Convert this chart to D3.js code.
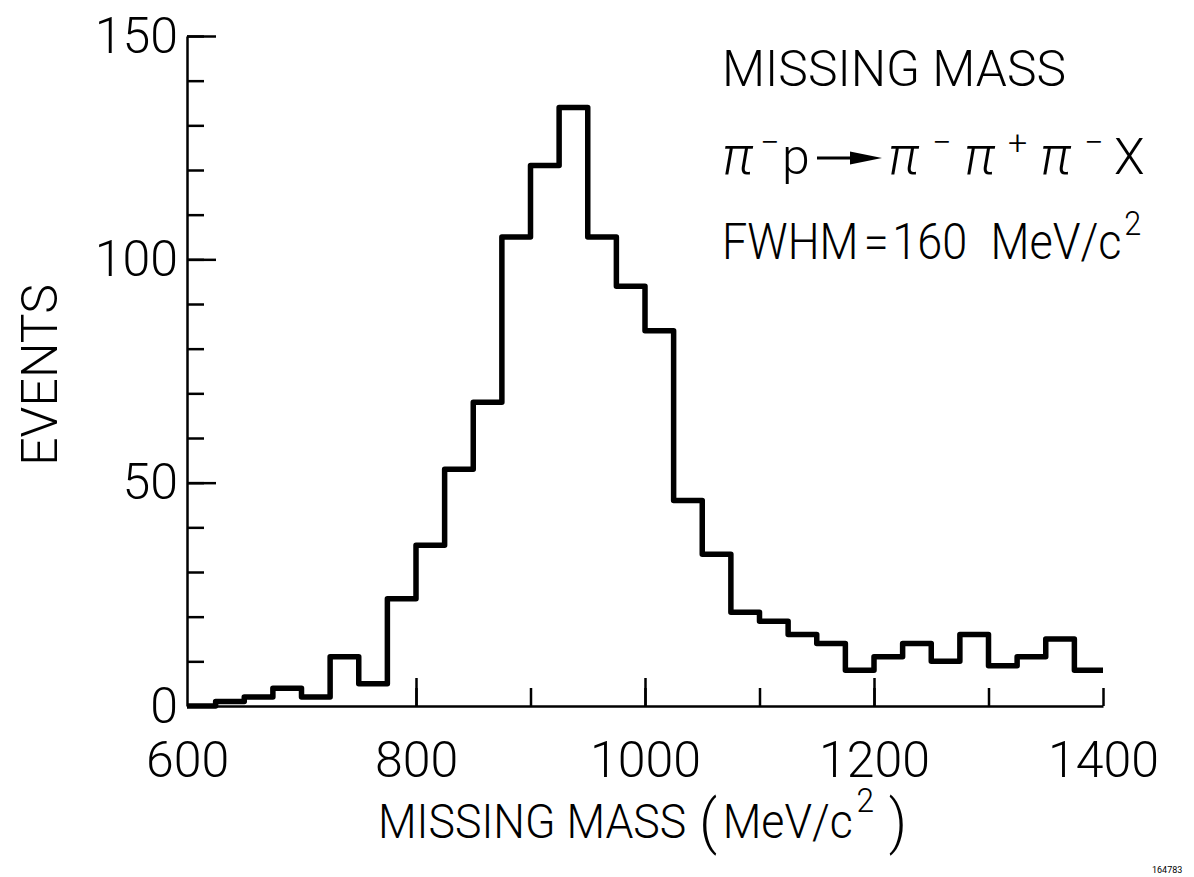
<!DOCTYPE html>
<html><head><meta charset="utf-8">
<script src="https://cdn.jsdelivr.net/npm/d3@7"></script>
<style>body{margin:0;background:#fff}svg{display:block}</style>
</head><body><svg id="c" width="1194" height="877"></svg>
<script>
// ---- data ----
const binLow = [600,625,650,675,700,725,750,775,800,825,850,875,900,925,950,975,
                1000,1025,1050,1075,1100,1125,1150,1175,1200,1225,1250,1275,1300,1325,1350,1375];
const binWidth = 25;
const counts = [0,1,2,4,2,11,5,24,36,53,68,105,121,134,105,94,
                84,46,34,21,19,16,14,8,11,14,10,16,9,11,15,8];
const xTickValues = [800,900,1000,1100,1200,1300,1400];
const xMajorTicks = [800,1000,1200];
const xTickLabels = [600,800,1000,1200,1400];
const yTickValues = [10,20,30,40,50,60,70,80,90,100,110,120,130,140,150];
const yMajorTicks = [50,100,150];
const yTickLabels = [0,50,100,150];

// ---- drawing ----
const svg = d3.select('#c');
const FONT = "Roboto, 'Liberation Sans', 'DejaVu Sans', sans-serif";
const x = d3.scaleLinear().domain([600,1400]).range([187,1103]);
const y = d3.scaleLinear().domain([0,150]).range([706,36]);

function styleAxis(g, w){
  g.selectAll('path,line').attr('stroke','#000').attr('stroke-width',w);
}
// y axis (ticks pointing right)
svg.append('g').attr('transform','translate(187,0)')
  .call(d3.axisRight(y).tickValues(yTickValues).tickSizeInner(17).tickSizeOuter(0).tickFormat(''))
  .call(g=>styleAxis(g,2.5));
svg.append('g').attr('transform','translate(187,0)')
  .call(d3.axisRight(y).tickValues(yMajorTicks).tickSizeInner(29).tickSizeOuter(0).tickFormat(''))
  .call(g=>{g.select('.domain').remove(); styleAxis(g,2.5);});
// x axis (ticks pointing up)
svg.append('g').attr('transform','translate(0,706)')
  .call(d3.axisTop(x).tickValues(xTickValues).tickSizeInner(18).tickSizeOuter(0).tickFormat(''))
  .call(g=>styleAxis(g,2.5));
svg.append('g').attr('transform','translate(0,706)')
  .call(d3.axisTop(x).tickValues(xMajorTicks).tickSizeInner(28).tickSizeOuter(0).tickFormat(''))
  .call(g=>{g.select('.domain').remove(); styleAxis(g,2.5);});

// tick labels
svg.append('g').attr('transform','translate(0,706)')
  .call(d3.axisBottom(x).tickValues(xTickLabels).tickSize(0).tickPadding(35).tickFormat(d3.format('d')))
  .call(g=>{g.select('.domain').remove();
    g.selectAll('text').attr('font-family',FONT).attr('font-weight',300).attr('font-size',50).attr('fill','#000');});
svg.append('g').attr('transform','translate(187,0)')
  .call(d3.axisLeft(y).tickValues(yTickLabels).tickSize(0).tickPadding(9).tickFormat(d3.format('d')))
  .call(g=>{g.select('.domain').remove();
    g.selectAll('text').attr('font-family',FONT).attr('font-weight',300).attr('font-size',50).attr('fill','#000');});

// histogram
const pts = binLow.map((b,i)=>[b,counts[i]]);
pts.push([binLow[binLow.length-1]+binWidth, counts[counts.length-1]]);
svg.append('path').datum(pts)
  .attr('d', d3.line().x(d=>x(d[0])).y(d=>y(d[1])).curve(d3.curveStepAfter))
  .attr('fill','none').attr('stroke','#000').attr('stroke-width',5.5).attr('stroke-linejoin','round');

// axis titles
svg.append('text').attr('transform','translate(57,375) rotate(-90)')
  .attr('text-anchor','middle').attr('font-family',FONT).attr('font-weight',300).attr('font-size',50)
  .text('EVENTS');

const xt = svg.append('text').attr('transform','translate(378,838) scale(0.93,1)')
  .attr('font-family',FONT).attr('font-weight',300).attr('font-size',48);
xt.append('tspan').text('MISSING MASS');
xt.append('tspan').attr('dx',14).attr('dy',4).attr('font-size',60).text('(');
xt.append('tspan').attr('dx',6).attr('dy',-4).text('MeV/c');
xt.append('tspan').attr('dx',4).attr('dy',-26).attr('font-size',34).text('2');
xt.append('tspan').attr('dx',16).attr('dy',30).attr('font-size',60).text(')');

// annotation
const ann = svg.append('g').attr('font-family',FONT).attr('font-weight',300).attr('font-size',50);
ann.append('text').attr('x',722).attr('y',86).attr('textLength',344).attr('lengthAdjust','spacingAndGlyphs').text('MISSING MASS');
const T = (xx, yy, s, size) => ann.append('text').attr('x',xx).attr('y',yy).attr('font-size',size||50).text(s);
const L2 = 174, SUP = 154;
T(722, L2, 'π', 54).attr('font-style','italic');
T(760, SUP, '−', 34);
T(782, L2, 'p');
T(888, L2, 'π', 54).attr('font-style','italic');
T(932, SUP, '−', 34);
T(964, L2, 'π', 54).attr('font-style','italic');
T(1008, SUP, '+', 34);
T(1040, L2, 'π', 54).attr('font-style','italic');
T(1084, SUP, '−', 34);
T(1114, L2, 'X');
// arrow
ann.append('line').attr('x1',817).attr('y1',158).attr('x2',856).attr('y2',158).attr('stroke','#000').attr('stroke-width',3);
ann.append('path').attr('d','M 850 151.5 L 882 158 L 850 164.5 Z').attr('fill','#000');

const fw = ann.append('text').attr('transform','translate(722,259) scale(0.9,1)');
fw.append('tspan').text('FWHM');
fw.append('tspan').attr('dx',6).text('=');
fw.append('tspan').attr('dx',4).text('160');
fw.append('tspan').attr('dx',26).text('MeV/c');
fw.append('tspan').attr('dx',3).attr('dy',-24).attr('font-size',34).text('2');

svg.append('text').attr('x',1152).attr('y',873).attr('font-family',FONT).attr('font-size',9).text('164783');
</script></body></html>
